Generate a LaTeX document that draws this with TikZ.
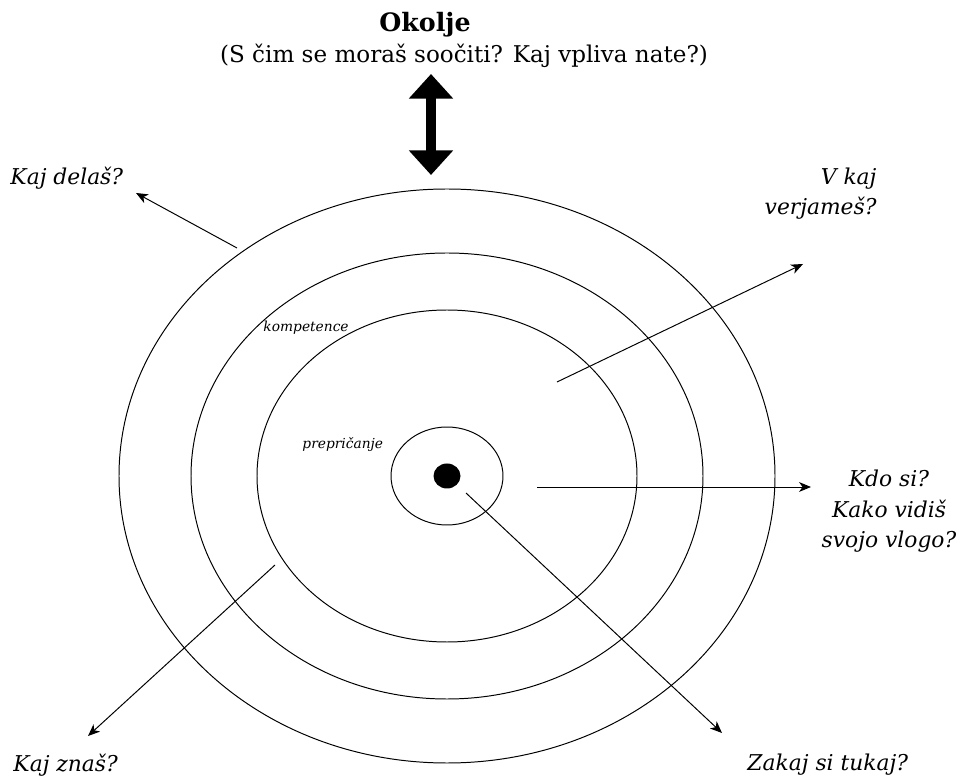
\documentclass[tikz,border=0pt]{standalone}
\usepackage{fontspec}
\setmainfont{DejaVu Serif}
\usetikzlibrary{arrows.meta,positioning}

\begin{document}
\begin{tikzpicture}[x=0.025cm, y=-0.025cm, >={Stealth[length=8.5pt, width=7pt, inset=2.5pt]}, line width=0.7pt]
    % Define styles for the nodes
    \tikzstyle{question} = [inner sep=0pt, font=\itshape\fontsize{15.5}{22}\selectfont]
    \tikzstyle{layer} = [inner sep=0pt, font=\itshape\fontsize{9.8}{12}\selectfont]

    \useasboundingbox (0,0) rectangle (962,780);

    % Rings
    \coordinate (centre) at (447,476);
    \draw (centre) ellipse [x radius=328, y radius=287];
    \draw (centre) ellipse [x radius=256, y radius=223];
    \draw (centre) ellipse [x radius=190, y radius=166];
    \draw (centre) ellipse [x radius=56, y radius=49];
    \fill (centre) ellipse [x radius=13.5, y radius=12.5];

    % Title
    \node[inner sep=0pt, anchor=base, font=\bfseries\fontsize{18}{21}\selectfont] (okolje) at (425,32) {Okolje};
    \node[inner sep=0pt, anchor=base, font=\fontsize{16.4}{19}\selectfont] (okoljeq) at (464,63) {(S čim se moraš soočiti? Kaj vpliva nate?)};

    % Double arrow
    \coordinate (top) at (431,74);
    \coordinate (bottom) at (431,175);
    \draw[line width=7pt, {Triangle[length=17.5pt, width=30.5pt]}-{Triangle[length=17.5pt, width=30.5pt]}] (top) -- (bottom);

    % Questions
    \node[question, anchor=base west] (delas) at (10,185) {Kaj delaš?};
    \node[question, anchor=base east, align=right] (verjames) at (877,215) {V kaj\\verjameš?};
    \node[question, anchor=base, align=center] (kdosi) at (889,548) {Kdo si?\\Kako vidiš\\svojo vlogo?};
    \node[question, anchor=base west] (znas) at (13,771) {Kaj znaš?};
    \node[question, anchor=base west] (zakaj) at (747,770) {Zakaj si tukaj?};

    % Layer labels
    \node[layer, anchor=base west] (kompetence) at (263,332) {kompetence};
    \node[layer, anchor=base west] (prepricanje) at (302,449) {prepričanje};

    % Arrows
    \coordinate (delasA) at (237,248);  \coordinate (delasB) at (136,193);
    \coordinate (verjA) at (557,382);   \coordinate (verjB) at (803,264);
    \coordinate (kdoA) at (537,487);    \coordinate (kdoB) at (811,487);
    \coordinate (znasA) at (275,565);   \coordinate (znasB) at (88,736);
    \coordinate (zakajA) at (466,493);  \coordinate (zakajB) at (722,733);
    \draw[->] (delasA) -- (delasB);
    \draw[->] (verjA) -- (verjB);
    \draw[->] (kdoA) -- (kdoB);
    \draw[->] (znasA) -- (znasB);
    \draw[->] (zakajA) -- (zakajB);
\end{tikzpicture}
\end{document}
